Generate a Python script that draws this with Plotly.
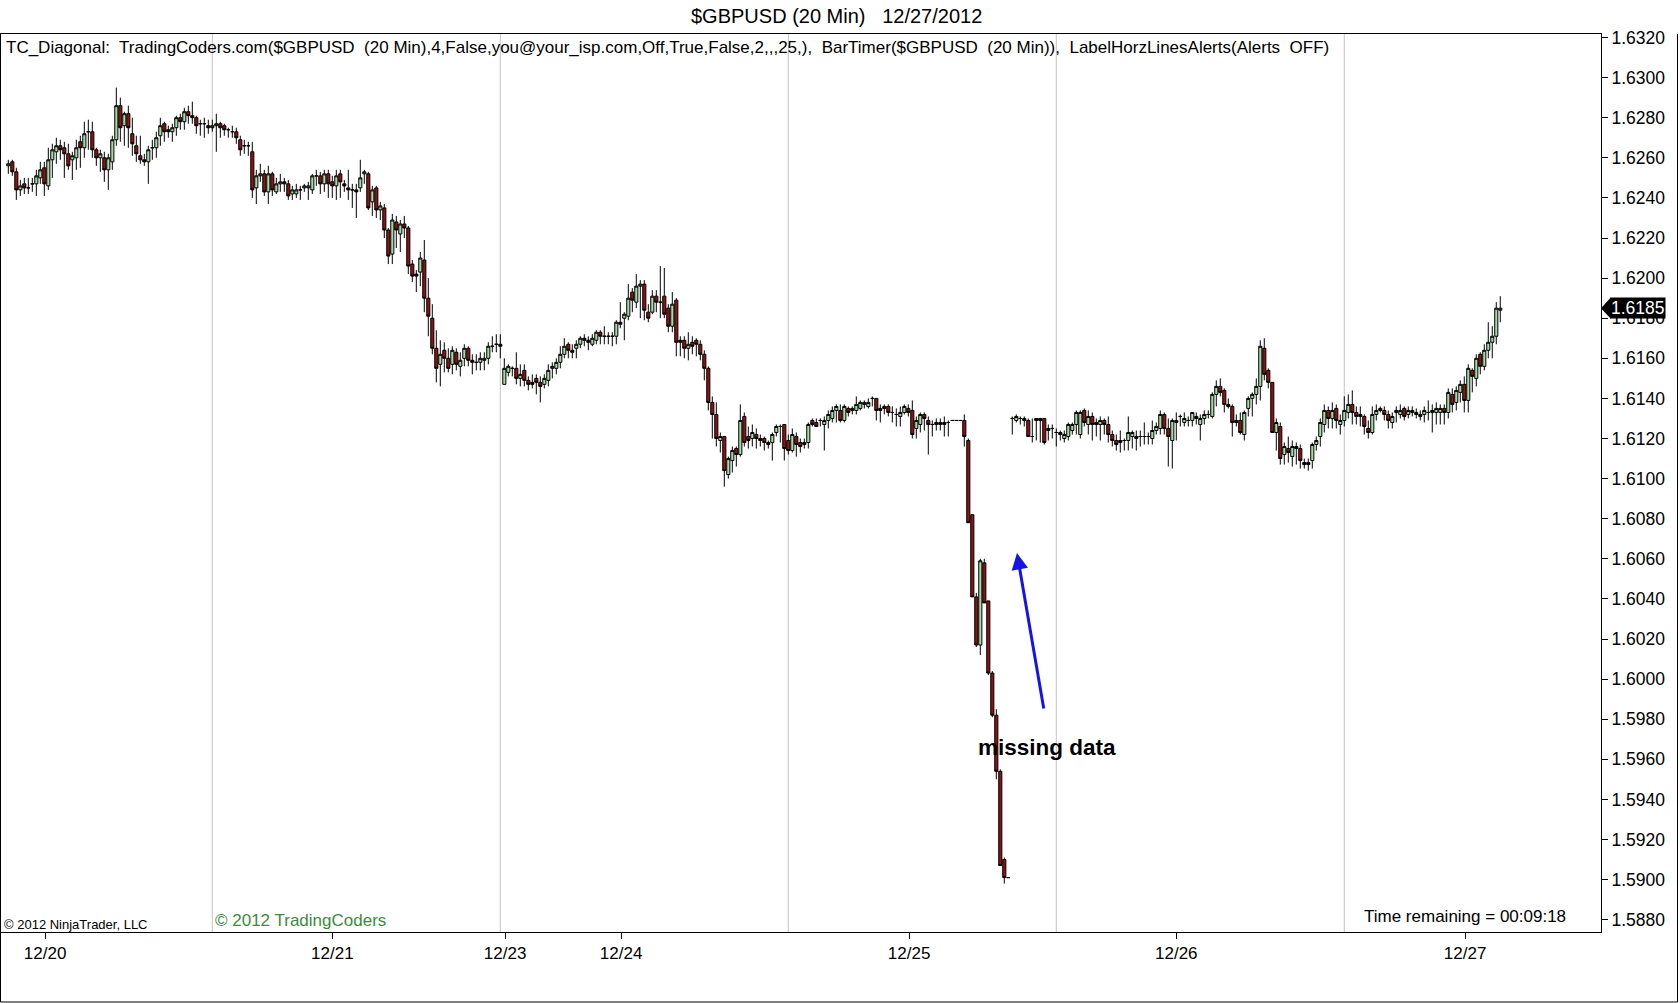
import plotly.graph_objects as go

# 20 minute bars, prices stored as pips relative to 1.6000
BASE = 1.6000
PIP = 0.0001

open_pips = [
    256, 258, 253, 244, 247, 245, 247, 247, 250, 255,
    246, 259, 263, 266, 265, 262, 259, 260, 268, 265,
    273, 273, 264, 260, 260, 254, 258, 269, 286, 276,
    282, 272, 266, 261, 259, 258, 265, 265, 271, 277,
    274, 273, 275, 280, 278, 283, 281, 280, 277, 277,
    276, 275, 276, 277, 276, 274, 273, 273, 269, 266,
    266, 263, 245, 251, 252, 243, 252, 243, 247, 248,
    247, 242, 242, 244, 245, 245, 244, 251, 251, 247,
    252, 248, 246, 252, 247, 245, 244, 244, 245, 252,
    252, 238, 245, 234, 235, 224, 212, 228, 222, 227,
    225, 207, 202, 203, 209, 190, 180, 165, 157, 164,
    160, 157, 163, 156, 160, 165, 159, 158, 158, 159,
    160, 166, 167, 167, 147, 153, 155, 155, 150, 154,
    149, 148, 150, 148, 147, 149, 155, 155, 158, 162,
    167, 164, 165, 167, 170, 169, 167, 169, 173, 171,
    171, 171, 171, 178, 180, 181, 193, 188, 196, 197,
    183, 183, 191, 188, 191, 185, 176, 189, 169, 169,
    165, 168, 169, 167, 162, 155, 138, 132, 119, 121,
    102, 109, 115, 112, 131, 121, 120, 122, 120, 120,
    118, 118, 123, 126, 127, 119, 114, 121, 118, 117,
    118, 129, 128, 129, 127, 129, 130, 134, 134, 129,
    135, 134, 134, 135, 137, 136, 140, 140, 135, 135,
    136, 133, 132, 131, 133, 135, 134, 125, 127, 132,
    129, 127, 127, 127, 127, 128, 129, 129, 129, 129,
    119, 82, 41, 17, 58, 39, 3, -18, -46, -90,
    -99, 130, 129, 130, 129, 129, 121, 130, 130, 130,
    124, 125, 123, 123, 120, 121, 124, 127, 122, 134,
    127, 131, 128, 127, 129, 127, 122, 119, 118, 119,
    119, 121, 120, 121, 121, 121, 120, 124, 125, 132,
    125, 119, 128, 131, 128, 129, 129, 131, 127, 130,
    132, 131, 142, 146, 144, 137, 136, 129, 129, 122,
    135, 140, 142, 146, 165, 154, 148, 123, 126, 112,
    115, 111, 116, 115, 108, 108, 109, 117, 121, 127,
    134, 130, 135, 127, 129, 133, 137, 133, 132, 131,
    125, 123, 132, 134, 134, 132, 128, 133, 132, 135,
    132, 133, 133, 131, 132, 133, 133, 133, 133, 135,
    133, 142, 138, 143, 147, 139, 154, 150, 162, 156,
    164, 168, 171, 184,
]

high_pips = [
    259, 259, 255, 249, 250, 250, 250, 254, 258, 258,
    265, 267, 270, 269, 268, 267, 263, 269, 271, 278,
    279, 278, 265, 264, 263, 262, 271, 295, 290, 283,
    286, 280, 271, 271, 262, 266, 269, 273, 280, 278,
    276, 277, 281, 282, 285, 286, 288, 281, 279, 280,
    279, 279, 282, 278, 277, 275, 276, 275, 271, 269,
    268, 268, 254, 257, 254, 256, 253, 250, 252, 250,
    249, 246, 247, 246, 247, 248, 252, 254, 253, 254,
    254, 251, 254, 254, 249, 254, 247, 247, 259, 254,
    253, 246, 246, 238, 237, 225, 232, 231, 229, 231,
    226, 209, 204, 213, 219, 200, 187, 174, 169, 168,
    165, 166, 165, 163, 167, 166, 162, 162, 163, 163,
    168, 171, 172, 172, 160, 157, 156, 163, 157, 157,
    151, 152, 152, 151, 152, 157, 158, 160, 166, 170,
    168, 167, 169, 171, 172, 171, 172, 174, 174, 176,
    173, 173, 179, 188, 183, 197, 195, 202, 199, 199,
    187, 194, 194, 206, 205, 187, 193, 190, 171, 171,
    173, 171, 170, 169, 164, 156, 141, 138, 123, 121,
    111, 116, 116, 137, 133, 126, 127, 125, 122, 121,
    119, 123, 127, 127, 127, 122, 125, 123, 120, 120,
    128, 130, 130, 130, 131, 134, 136, 137, 137, 137,
    136, 136, 141, 139, 139, 140, 141, 140, 137, 137,
    137, 136, 135, 136, 137, 137, 139, 131, 133, 133,
    131, 129, 130, 130, 131, 129, 129, 129, 129, 132,
    120, 82, 43, 60, 60, 39, 4, -15, -45, -89,
    -99, 131, 132, 131, 131, 130, 130, 130, 130, 130,
    127, 127, 125, 124, 124, 128, 128, 134, 134, 135,
    134, 133, 130, 131, 130, 131, 124, 122, 124, 120,
    131, 124, 124, 124, 128, 123, 129, 128, 134, 133,
    130, 130, 133, 132, 133, 131, 133, 133, 132, 134,
    134, 143, 149, 150, 145, 140, 137, 132, 133, 134,
    141, 143, 150, 169, 170, 155, 148, 130, 128, 118,
    121, 119, 118, 117, 110, 110, 118, 121, 130, 137,
    136, 138, 137, 132, 141, 142, 144, 136, 136, 132,
    129, 136, 137, 136, 136, 134, 133, 136, 137, 136,
    136, 136, 135, 134, 136, 139, 137, 138, 137, 137,
    145, 145, 146, 149, 151, 157, 155, 162, 163, 167,
    178, 176, 188, 191,
]

low_pips = [
    252, 251, 239, 241, 242, 242, 243, 241, 247, 241,
    244, 250, 257, 259, 250, 254, 249, 254, 255, 260,
    264, 260, 256, 253, 248, 244, 254, 266, 268, 266,
    265, 261, 258, 257, 256, 247, 259, 260, 266, 268,
    270, 268, 271, 274, 274, 277, 277, 272, 271, 270,
    272, 273, 263, 270, 271, 270, 270, 267, 261, 262,
    261, 240, 237, 248, 241, 237, 241, 242, 243, 243,
    239, 239, 240, 239, 243, 239, 242, 246, 242, 243,
    240, 240, 239, 240, 243, 239, 235, 230, 243, 247,
    234, 231, 230, 229, 220, 207, 207, 215, 213, 220,
    202, 198, 193, 196, 183, 171, 162, 148, 146, 153,
    153, 152, 154, 151, 156, 156, 152, 154, 154, 154,
    157, 163, 163, 160, 147, 151, 151, 147, 146, 146,
    144, 145, 142, 138, 145, 146, 150, 152, 155, 160,
    160, 160, 160, 165, 166, 164, 166, 167, 167, 167,
    167, 166, 167, 175, 169, 179, 183, 185, 180, 179,
    178, 182, 183, 180, 180, 173, 173, 161, 161, 160,
    159, 162, 161, 159, 149, 134, 120, 116, 113, 96,
    100, 103, 106, 111, 116, 115, 116, 115, 116, 114,
    115, 109, 121, 118, 109, 112, 113, 111, 113, 115,
    115, 126, 126, 126, 114, 125, 128, 128, 128, 128,
    131, 132, 132, 134, 135, 135, 136, 129, 128, 132,
    131, 128, 126, 126, 132, 131, 120, 120, 123, 124,
    112, 121, 124, 124, 121, 121, 129, 129, 129, 116,
    78, 41, 16, 12, 38, 2, -19, -50, -93, -102,
    -99, 122, 128, 127, 126, 121, 118, 119, 118, 117,
    119, 120, 116, 119, 118, 119, 122, 122, 120, 126,
    122, 119, 121, 119, 122, 118, 116, 114, 113, 114,
    114, 115, 114, 116, 117, 117, 117, 122, 122, 122,
    106, 105, 119, 126, 126, 126, 126, 127, 119, 127,
    130, 130, 136, 141, 133, 135, 121, 126, 122, 119,
    131, 131, 137, 139, 149, 145, 123, 114, 107, 107,
    108, 106, 107, 105, 105, 104, 105, 114, 116, 123,
    125, 125, 125, 122, 126, 130, 127, 127, 126, 122,
    120, 122, 129, 133, 129, 125, 125, 128, 130, 129,
    130, 131, 130, 129, 128, 129, 123, 127, 127, 127,
    130, 133, 134, 138, 133, 133, 143, 146, 152, 154,
    160, 160, 167, 178,
]

close_pips = [
    257, 253, 244, 246, 245, 245, 247, 251, 254, 247,
    259, 264, 266, 264, 262, 256, 261, 265, 265, 272,
    273, 264, 260, 262, 254, 260, 269, 286, 275, 282,
    275, 267, 262, 259, 258, 264, 265, 270, 276, 273,
    273, 275, 280, 278, 283, 281, 280, 276, 277, 277,
    275, 276, 277, 275, 274, 274, 273, 270, 264, 266,
    266, 244, 251, 252, 243, 252, 244, 247, 248, 247,
    241, 244, 244, 244, 246, 246, 251, 251, 247, 252,
    247, 246, 251, 248, 246, 244, 244, 243, 250, 253,
    235, 244, 234, 236, 224, 211, 229, 224, 227, 225,
    206, 201, 201, 210, 190, 181, 165, 155, 162, 160,
    155, 164, 157, 159, 165, 159, 158, 158, 160, 160,
    166, 166, 167, 166, 155, 156, 155, 150, 152, 149,
    147, 147, 148, 146, 150, 154, 156, 158, 162, 166,
    164, 163, 167, 170, 169, 168, 170, 173, 171, 171,
    171, 171, 178, 177, 182, 190, 189, 196, 197, 184,
    180, 191, 188, 188, 182, 176, 187, 168, 168, 165,
    167, 166, 167, 162, 155, 138, 132, 120, 121, 104,
    110, 114, 112, 129, 118, 119, 123, 120, 119, 118,
    117, 122, 126, 126, 115, 114, 122, 117, 116, 118,
    127, 127, 126, 129, 129, 132, 134, 136, 129, 136,
    133, 135, 137, 138, 138, 138, 140, 134, 134, 136,
    133, 133, 132, 133, 136, 133, 122, 129, 132, 130,
    127, 127, 128, 128, 128, 128, 129, 129, 129, 121,
    78, 41, 17, 59, 38, 3, -18, -46, -93, -99,
    -99, 130, 131, 130, 130, 121, 121, 129, 129, 118,
    125, 125, 123, 122, 122, 127, 127, 133, 133, 128,
    131, 127, 127, 129, 127, 122, 119, 117, 119, 119,
    123, 123, 121, 121, 121, 121, 124, 126, 132, 125,
    121, 129, 129, 131, 130, 129, 133, 130, 130, 132,
    132, 142, 146, 143, 137, 136, 128, 128, 123, 133,
    140, 142, 146, 166, 152, 148, 123, 128, 110, 116,
    113, 116, 115, 109, 107, 107, 117, 119, 128, 134,
    130, 134, 129, 129, 134, 137, 133, 131, 131, 126,
    123, 132, 134, 135, 132, 129, 131, 134, 134, 131,
    134, 134, 132, 132, 134, 133, 134, 135, 135, 133,
    143, 137, 144, 147, 139, 155, 151, 160, 156, 164,
    168, 171, 185, 185,
]

# bar numbers where sessions roll over, and where the date labels sit
session_break_bars = [51, 123, 195, 262, 334]
day_label_bars = [9.2, 81, 124.2, 153.2, 225.2, 292, 364.2]
day_labels = ["12/20", "12/21", "12/23", "12/24", "12/25", "12/26", "12/27"]

to_price = lambda pips: [round(BASE + p * PIP, 4) for p in pips]
opens, highs, lows, closes = map(to_price, (open_pips, high_pips, low_pips, close_pips))
bars = list(range(len(closes)))
last_price = closes[-1]

FONT = "Liberation Sans, Arial, sans-serif"

# plot area in pixels, used to place the text decorations
PLOT_L, PLOT_T, PLOT_W, PLOT_H = 1, 34, 1600, 898


def px(x):
    return (x - PLOT_L) / PLOT_W


def py(y):
    return (PLOT_T + PLOT_H - y) / PLOT_H


fig = go.Figure(go.Candlestick(
    x=bars,
    open=opens,
    high=highs,
    low=lows,
    close=closes,
    increasing=dict(fillcolor="#a6dba6", line=dict(color="black", width=1)),
    decreasing=dict(fillcolor="#8c1414", line=dict(color="black", width=1)),
    whiskerwidth=0,
    showlegend=False,
    hoverinfo="skip",
))

shapes = []
for b in session_break_bars:
    shapes.append(dict(type="line", xref="x", yref="paper", x0=b, x1=b, y0=0, y1=1,
                       line=dict(color="#c4c4c4", width=1), layer="below"))

# pointer of the last price marker
half = 0.00054
shapes.append(dict(type="path", xref="paper", yref="y", fillcolor="black", line=dict(width=0),
                   path=f"M {px(1601)},{last_price} L {px(1611)},{last_price + half} "
                        f"L {px(1611)},{last_price - half} Z"))

# window frame
shapes.append(dict(type="path", xref="paper", yref="paper", line=dict(color="black", width=1),
                   path=f"M {px(0.5)},1 L {px(0.5)},{py(1002)} L {px(1677.5)},{py(1002)} L {px(1677.5)},1"))

nb = "\u00a0"
annotations = [
    dict(text=f"$GBPUSD (20 Min){nb}{nb} 12/27/2012", x=px(836), y=py(16),
         font=dict(size=20, color="black")),
    dict(text=(f"TC_Diagonal:{nb} TradingCoders.com($GBPUSD{nb} (20 Min),4,False,you@your_isp.com,"
               f"Off,True,False,2,,,25,),{nb} BarTimer($GBPUSD{nb} (20 Min)),{nb} "
               f"LabelHorzLinesAlerts(Alerts{nb} OFF)"),
         x=px(4), y=py(48), xanchor="left", font=dict(size=17, color="black")),
    dict(text="© 2012 NinjaTrader, LLC", x=px(2), y=py(924), xanchor="left",
         font=dict(size=13, color="black")),
    dict(text="© 2012 TradingCoders", x=px(213), y=py(920), xanchor="left",
         font=dict(size=17, color="#3b8b3b")),
    dict(text="Time remaining = 00:09:18", x=px(1568), y=py(916), xanchor="right",
         font=dict(size=17, color="black")),
    dict(text="<b>missing data</b>", x=px(1047), y=py(747),
         font=dict(size=22.5, color="black")),
    dict(text="", x=px(1017), y=py(553), showarrow=True, ax=27, ay=157,
         arrowhead=2, arrowsize=1.1, arrowwidth=3, arrowcolor="#1414e6"),
    dict(text=f"{last_price:.4f}", x=px(1610), y=last_price, yref="y", xanchor="left",
         bgcolor="black", borderpad=0, font=dict(size=17.5, color="white")),
]
for a in annotations:
    a.setdefault("xref", "paper")
    a.setdefault("yref", "paper")
    a.setdefault("yanchor", "middle")
    a.setdefault("showarrow", False)

fig.update_layout(
    width=1680,
    height=1003,
    margin=dict(l=PLOT_L, r=1680 - PLOT_L - PLOT_W, t=PLOT_T, b=1003 - PLOT_T - PLOT_H),
    paper_bgcolor="white",
    plot_bgcolor="white",
    font=dict(family=FONT, size=17, color="black"),
    boxgap=0.22,
    boxgroupgap=0,
    shapes=shapes,
    annotations=annotations,
    showlegend=False,
)
fig.update_xaxes(
    range=[-1.83, 398.18],
    rangeslider_visible=False,
    tickvals=day_label_bars,
    ticktext=day_labels,
    ticks="outside", ticklen=6, tickcolor="black",
    showgrid=False, zeroline=False,
    showline=True, linecolor="black", linewidth=1, mirror=True,
    tickfont=dict(size=17),
)
fig.update_yaxes(
    side="right",
    range=[1.587387, 1.632175],
    tick0=1.588, dtick=0.002, tickformat=".4f",
    ticks="outside", ticklen=6, tickcolor="black",
    showgrid=False, zeroline=False,
    showline=True, linecolor="black", linewidth=1, mirror=True,
    tickfont=dict(size=17.5),
)

# the page body has a default 8px margin; drop it so the figure fills the window
fig.write_html(
    "out.html",
    config={"displayModeBar": False},
    post_script="document.body.style.margin='0';document.body.style.overflow='hidden';",
)
